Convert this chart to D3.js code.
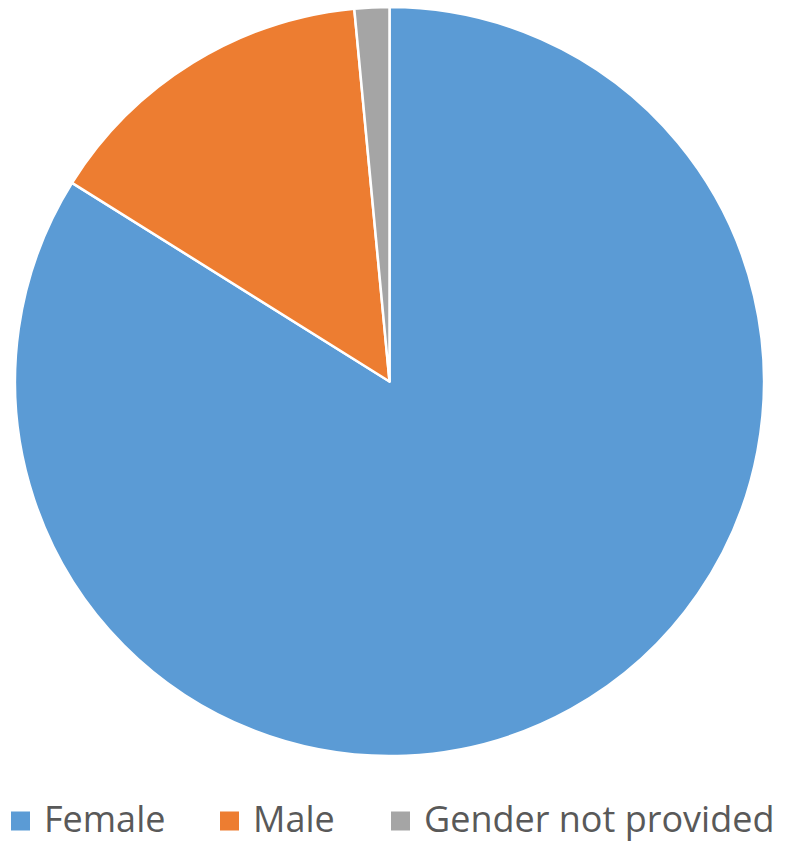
<!DOCTYPE html>
<html>
<head>
<meta charset="utf-8">
<script src="https://cdn.jsdelivr.net/npm/d3@7"></script>
<style>
  html, body { margin: 0; padding: 0; background: #fff; }
  svg { display: block; }
</style>
</head>
<body>
<svg id="chart" width="790" height="842"></svg>
<script>
const categories = ["Female", "Male", "Gender not provided"];
const shares = [83.9, 14.6, 1.5];
const colors = ["#5b9bd5", "#ed7d31", "#a5a5a5"];

const svg = d3.select("#chart");
const cx = 389.5, cy = 381.5, radius = 374.5;

const color = d3.scaleOrdinal().domain(categories).range(colors);

const pie = d3.pie().sort(null).value(d => d.value);
const arc = d3.arc().innerRadius(0).outerRadius(radius);

const data = categories.map((c, i) => ({ name: c, value: shares[i] }));

svg.append("g")
    .attr("transform", `translate(${cx},${cy})`)
  .selectAll("path")
  .data(pie(data))
  .enter()
  .append("path")
    .attr("d", arc)
    .attr("fill", d => color(d.data.name))
    .attr("stroke", "#fff")
    .attr("stroke-width", 2.5)
    .attr("stroke-linejoin", "round");

// legend along the bottom
const legendX = [11, 220, 391];
const legend = svg.append("g").attr("transform", "translate(0, 820)");

categories.forEach((c, i) => {
    legend.append("rect")
        .attr("x", legendX[i])
        .attr("y", -8.5)
        .attr("width", 19)
        .attr("height", 19)
        .attr("fill", color(c));

    legend.append("text")
        .attr("x", legendX[i] + 33)
        .attr("y", 12)
        .attr("font-family", "Open Sans, sans-serif")
        .attr("font-size", 36)
        .attr("fill", "#595959")
        .text(c);
});
</script>
</body>
</html>
